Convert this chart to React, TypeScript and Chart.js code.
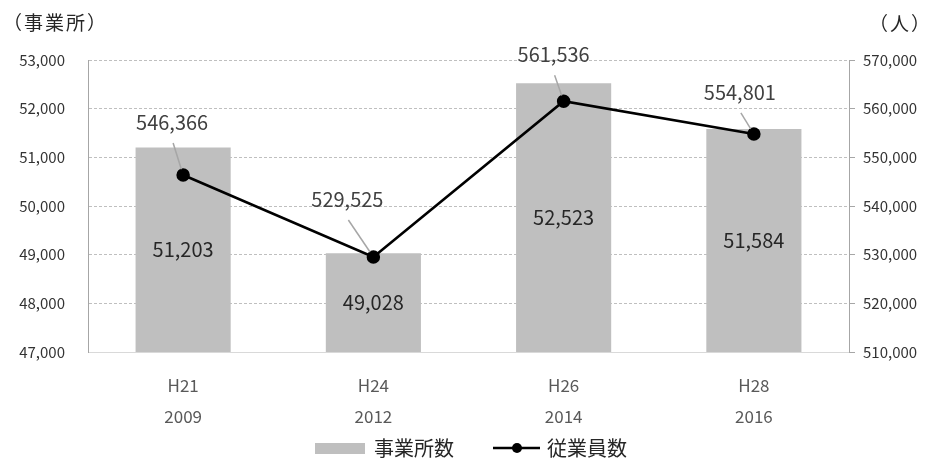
import { useEffect, useRef } from "react";
import { Chart, registerables } from "chart.js";

Chart.register(...registerables);

const eraLabels = ["H21", "H24", "H26", "H28"];
const yearLabels = ["2009", "2012", "2014", "2016"];
const establishments = [51203, 49028, 52523, 51584];
const employees = [546366, 529525, 561536, 554801];
const leftAxis = { min: 47000, max: 53000, step: 1000 };
const rightAxis = { min: 510000, max: 570000, step: 10000 };
const seriesNames = ["事業所数", "従業員数"];
const leftTitle = "（事業所）";
const rightTitle = "（人）";

// label placement offsets (px) for employee labels, relative to each point
const employeeLabelOffsets = [
  [-11, -53],
  [-26, -58],
  [-10, -47],
  [-14, -42],
];

const FONT = '"Noto Sans CJK JP", "Noto Sans", sans-serif';
const fmt = (v: number) => v.toLocaleString("en-US");

const overlay = {
  id: "overlay",
  afterDatasetsDraw(chart: any) {
    const ctx = chart.ctx as CanvasRenderingContext2D;
    const barMeta = chart.getDatasetMeta(0);
    const lineMeta = chart.getDatasetMeta(1);
    const bottom = chart.chartArea.bottom;
    ctx.save();
    ctx.font = `20px ${FONT}`;
    ctx.textAlign = "center";
    ctx.textBaseline = "middle";
    barMeta.data.forEach((el: any, i: number) => {
      ctx.fillStyle = "#262626";
      ctx.fillText(fmt(establishments[i]), el.x, (el.y + bottom) / 2);
    });
    lineMeta.data.forEach((pt: any, i: number) => {
      const [dx, dy] = employeeLabelOffsets[i];
      const lx = pt.x + dx;
      const ly = pt.y + dy;
      const sx = lx + 1;
      const sy = ly + 21;
      const vx = pt.x - sx;
      const vy = pt.y - sy;
      const len = Math.hypot(vx, vy);
      const ex = pt.x - (vx / len) * 6;
      const ey = pt.y - (vy / len) * 6;
      ctx.strokeStyle = "#a6a6a6";
      ctx.lineWidth = 1.5;
      ctx.beginPath();
      ctx.moveTo(sx, sy);
      ctx.lineTo(ex, ey);
      ctx.stroke();
      ctx.fillStyle = "#404040";
      ctx.fillText(fmt(employees[i]), lx, ly);
    });
    ctx.restore();
  },
  afterDraw(chart: any) {
    const ctx = chart.ctx as CanvasRenderingContext2D;
    ctx.save();
    // axis titles
    ctx.font = `19px ${FONT}`;
    (ctx as any).letterSpacing = "2px";
    ctx.fillStyle = "#262626";
    ctx.textBaseline = "middle";
    ctx.textAlign = "left";
    ctx.fillText(leftTitle, 3, 23);
    ctx.fillText(rightTitle, 869, 24);
    (ctx as any).letterSpacing = "0px";
    // legend
    const ly = 448;
    ctx.fillStyle = "#bfbfbf";
    ctx.fillRect(315, ly - 5, 50, 11);
    ctx.font = `20px ${FONT}`;
    ctx.fillStyle = "#262626";
    ctx.fillText(seriesNames[0], 374, ly);
    ctx.strokeStyle = "#000";
    ctx.lineWidth = 2.5;
    ctx.beginPath();
    ctx.moveTo(493, ly);
    ctx.lineTo(540, ly);
    ctx.stroke();
    ctx.fillStyle = "#000";
    ctx.beginPath();
    ctx.arc(517, ly, 5, 0, Math.PI * 2);
    ctx.fill();
    ctx.fillStyle = "#262626";
    ctx.fillText(seriesNames[1], 547, ly);
    ctx.restore();
  },
};

export default function App() {
  const ref = useRef<HTMLCanvasElement>(null);
  useEffect(() => {
    if (!ref.current) return;
    const chart = new Chart(ref.current, {
      type: "bar",
      data: {
        labels: eraLabels.map((e, i) => [e, yearLabels[i]]),
        datasets: [
          {
            type: "bar",
            label: seriesNames[0],
            data: establishments,
            backgroundColor: "#bfbfbf",
            borderWidth: 0,
            barPercentage: 0.5,
            categoryPercentage: 1,
            yAxisID: "y",
            order: 2,
          },
          {
            type: "line",
            label: seriesNames[1],
            data: employees,
            borderColor: "#000",
            borderWidth: 2.5,
            pointRadius: 5.5,
            pointBackgroundColor: "#000",
            pointBorderColor: "#000",
            tension: 0,
            yAxisID: "y1",
            order: 1,
          },
        ] as any,
      },
      options: {
        animation: false,
        responsive: false,
        layout: { padding: { top: 60, left: 0, right: 0, bottom: 0 } },
        plugins: { legend: { display: false }, tooltip: { enabled: false } },
        scales: {
          x: {
            offset: true,
            grid: { display: false },
            border: { display: true, color: "#d9d9d9", width: 1 },
            ticks: {
              color: "#595959",
              padding: 10,
              font: { family: FONT, size: 17, lineHeight: "31px" },
              maxRotation: 0,
            },
            afterFit: (s: any) => {
              s.height = 108;
            },
          },
          y: {
            position: "left",
            min: leftAxis.min,
            max: leftAxis.max,
            grid: { color: "#bfbfbf", lineWidth: 1, drawTicks: false },
            border: { display: true, color: "#a6a6a6", width: 1, dash: [3, 2] },
            ticks: {
              stepSize: leftAxis.step,
              padding: 23,
              color: "#333333",
              font: { family: FONT, size: 15 },
              callback: (v: any) => fmt(Number(v)),
            },
            afterFit: (s: any) => {
              s.width = 88;
            },
          },
          y1: {
            position: "right",
            min: rightAxis.min,
            max: rightAxis.max,
            grid: { display: true, drawOnChartArea: false, drawTicks: true, tickLength: 6, color: "#a6a6a6" },
            border: { display: true, color: "#a6a6a6", width: 1 },
            ticks: {
              stepSize: rightAxis.step,
              padding: 8,
              color: "#333333",
              font: { family: FONT, size: 15 },
              callback: (v: any) => fmt(Number(v)),
            },
            afterFit: (s: any) => {
              s.width = 76;
            },
          },
        },
      } as any,
      plugins: [overlay],
    });
    return () => chart.destroy();
  }, []);
  return (
    <div style={{ position: "absolute", left: 0, top: 0, width: 925, height: 460, background: "#fff" }}>
      <canvas ref={ref} width={925} height={460} />
    </div>
  );
}
